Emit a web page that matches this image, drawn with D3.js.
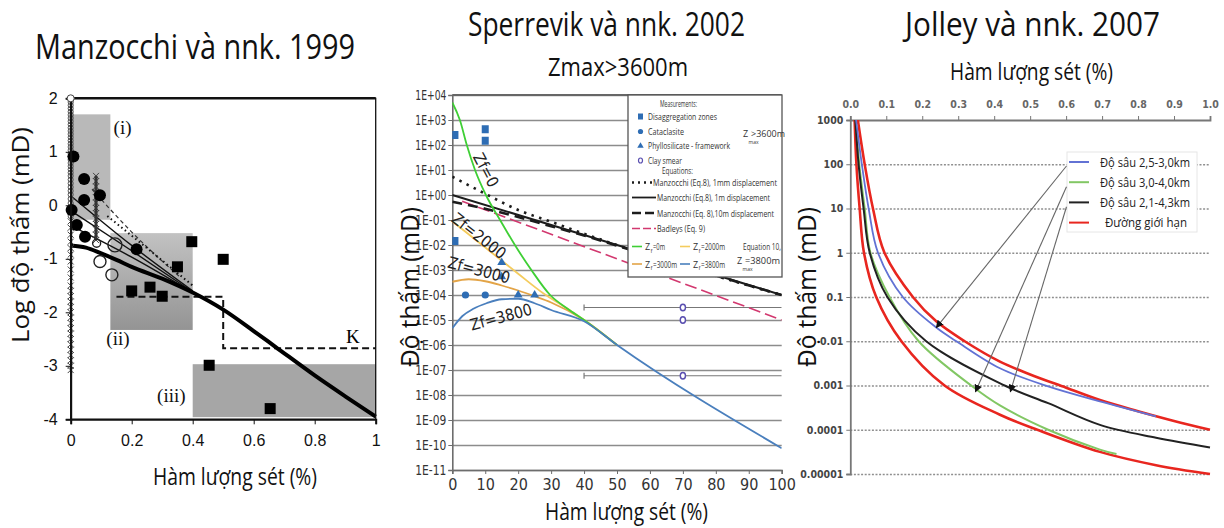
<!DOCTYPE html>
<html>
<head>
<meta charset="utf-8">
<title>Độ thấm - hàm lượng sét</title>
<script src="https://cdnjs.cloudflare.com/ajax/libs/d3/7.8.5/d3.min.js"></script>
<style>
  body { margin: 0; background: #fff; }
  text { font-family: 'Open Sans', sans-serif; }
  .narrow { font-family: 'Liberation Sans Narrow', 'Arial Narrow', 'DejaVu Sans Condensed', sans-serif; }
  .arial { font-family: 'Liberation Sans', Arial, sans-serif; }
  .serif { font-family: 'Liberation Serif', 'Times New Roman', serif; }
</style>
</head>
<body>
<svg id="chart" width="1224" height="528"></svg>
<script>
// ---------- Manzocchi 1999 : log k vs clay fraction ----------
var manzXTicks = [0, 0.2, 0.4, 0.6, 0.8, 1];
var manzYTicks = [2, 1, 0, -1, -2, -3, -4];
var manzThick = [[0,-0.75],[0.05,-0.79],[0.1,-0.9],[0.15,-1.02],[0.2,-1.15],[0.3,-1.37],[0.4,-1.63],[0.5,-1.95],[0.6,-2.35],[0.67,-2.64],[0.8,-3.18],[0.9,-3.57],[1,-3.95]];
var manzThin1 = [[0,0.18],[0.2,-0.75],[0.4,-1.6]];
var manzThin2 = [[0,-0.1],[0.2,-0.85],[0.4,-1.62]];
var manzThin3 = [[0,-0.38],[0.2,-0.97],[0.4,-1.63]];
var manzDashed = [[0.07,0.3],[0.2,-0.5],[0.36,-1.35]];
var manzDotted = [[0.12,-0.2],[0.25,-0.8],[0.4,-1.5]];
var manzK = [[0.15,-1.71],[0.5,-1.71],[0.5,-2.67],[1,-2.67]];
var manzBoxX0 = [0, 0.13, 0.4];
var manzBoxX1 = [0.13, 0.4, 1];
var manzBoxY0 = [-0.27, -2.33, -3.96];
var manzBoxY1 = [1.7, -0.52, -2.97];
var manzBoxLabels = ["(i)", "(ii)", "(iii)"];
var manzBoxLabelX = [0.17, 0.155, 0.33];
var manzBoxLabelY = [1.44, -2.5, -3.56];
var manzCircX = [0.009,0.044,0.044,0.096,0.003,0.02,0.047,0.216];
var manzCircY = [0.91,0.49,0.1,0.19,-0.09,-0.37,-0.59,-0.82];
var manzOpenX = [0.145,0.096,0.135,0.085];
var manzOpenY = [-0.74,-1.05,-1.3,-0.71];
var manzOpenR = [7,6,6,4];
var manzSqX = [0.397,0.5,0.35,0.26,0.3,0.2,0.454,0.654];
var manzSqY = [-0.68,-1.01,-1.15,-1.53,-1.7,-1.6,-2.99,-3.8];
var manzColO = [2.0,1.93,1.87,1.81,1.75,1.69,1.63,1.57,1.51,1.45,1.39,1.33,1.27,1.21,1.15,1.09,1.03,0.97,0.91,0.85,0.79,0.73,0.67,0.61,0.55,0.48,0.41,0.34,0.27,0.2,0.12,0.04,-0.04,-0.12,-0.2];
var manzColX = [-0.3,-0.42,-0.55,-0.68,-0.8,-0.92,-1.05,-1.2,-1.35,-1.5,-1.6,-1.7,-1.8,-1.9,-2.0,-2.1,-2.2,-2.3,-2.4,-2.5,-2.6,-2.7,-2.8,-2.9,-3.0,-3.08];
var manzCol2 = [0.55,0.45,0.35,0.25,0.15,0.05,-0.05,-0.15,-0.25,-0.35,-0.45,-0.55,-0.65];

// ---------- Sperrevik 2002 : k (log10 mD) vs clay % ----------
var spXTicks = [0,10,20,30,40,50,60,70,80,90,100];
var spYExp = [4,3,2,1,0,-1,-2,-3,-4,-5,-6,-7,-8,-9,-10,-11];
var spYLabels = ["1E+04","1E+03","1E+02","1E+01","1E+00","1E-01","1E-02","1E-03","1E-04","1E-05","1E-06","1E-07","1E-08","1E-09","1E-10","1E-11"];
var spZf0 = [[0,3.7],[2.3,3],[4.4,2],[6.9,1],[10.2,0],[14.5,-1],[19,-2],[24,-3],[29.7,-4],[35,-4.55],[40,-5],[50,-6]];
var spZf2000 = [[0,-1.05],[10,-2.1],[20,-3.15],[27.6,-3.93],[35,-4.55],[40,-5],[50,-6]];
var spZf3000 = [[0,-3.47],[5,-3.37],[10,-3.45],[15,-3.62],[20,-3.82],[25,-4.05],[30,-4.3],[40,-5],[50,-6]];
var spZf3800 = [[0,-5.33],[3,-4.85],[6.4,-4.55],[10.4,-4.33],[15,-4.17],[20,-4.15],[25,-4.33],[30,-4.6],[40,-5.05],[50,-6],[100,-10.13]];
var spManz1mm = [[0,0.73],[10,0.05],[20,-0.6],[30,-1.07],[40,-1.55],[50,-2.0],[100,-4]];
var spManz1m = [[0,0],[100,-4]];
var spManz10m = [[0,-0.27],[10,-0.55],[20,-0.88],[30,-1.25],[40,-1.62],[50,-2.03],[100,-4]];
var spBadley = [[3,-0.25],[100,-5]];
var spDisX = [0.8,10,10,0.8], spDisY = [2.4,2.63,2.17,-1.84];
var spCatX = [4,10], spCatY = [-4,-4];
var spPhyX = [15,15,20,25], spPhyY = [-2.7,-3.27,-4,-4];
var spClayX = [70,70,70], spClayY = [-4.5,-5.0,-7.23];
var spBarY = [-4.5,-7.23], spBarX0 = 40, spBarX1 = 100;

// ---------- Jolley 2007 : k (mD) vs clay fraction ----------
var joXTicks = [0,0.1,0.2,0.3,0.4,0.5,0.6,0.7,0.8,0.9,1.0];
var joYTicks = [1000,100,10,1,0.1,0.01,0.001,0.0001,0.00001];
var joYLabels = ["1000","100","10","1","0.1","0.01","0.001","0.0001","0.00001"];
var joRedUp = [[0.021,3],[0.04,2],[0.063,1],[0.095,0],[0.174,-1],[0.239,-1.55],[0.318,-2],[0.416,-2.46],[0.5,-2.75],[0.6,-3.05],[0.694,-3.33],[0.8,-3.58],[0.9,-3.8],[1.0,-4.0]];
var joBlue = [[0.016,3],[0.032,2],[0.051,1],[0.077,0],[0.146,-1],[0.239,-1.69],[0.295,-2],[0.416,-2.61],[0.55,-3.02],[0.694,-3.36],[0.85,-3.7]];
var joBlack = [[0.014,3],[0.023,2],[0.037,1],[0.054,0],[0.103,-1],[0.211,-2],[0.429,-3],[0.55,-3.4],[0.694,-3.89],[0.85,-4.18],[1.0,-4.4]];
var joGreen = [[0.015,3],[0.025,2],[0.04,1],[0.056,0],[0.109,-1],[0.19,-2],[0.336,-3],[0.416,-3.45],[0.55,-4.0],[0.694,-4.45],[0.74,-4.55]];
var joRedLow = [[0.012,3],[0.017,2],[0.026,1],[0.038,0],[0.072,-1],[0.142,-2],[0.262,-3],[0.416,-3.66],[0.52,-4.0],[0.694,-4.5],[0.85,-4.8],[1.0,-5.0]];
var joLegend = ["Độ sâu 2,5-3,0km","Độ sâu 3,0-4,0km","Độ sâu 2,1-4,3km","Đường giới hạn"];
var joColors = ["#6272d4","#82c764","#222222","#e8261f"];
var joArrowFrom = [[0.601,1.96],[0.601,1.49],[0.601,1.04]];
var joArrowTo = [[0.239,-1.69],[0.348,-3.14],[0.445,-3.14]];

var svg = d3.select("#chart");
svg.append("rect").attr("width",1224).attr("height",528).attr("fill","#fff");
function fit(sel, w) { return sel.attr("textLength", w).attr("lengthAdjust", "spacingAndGlyphs"); }

// ---- titles ----
fit(svg.append("text").attr("x",35).attr("y",59).attr("font-size",35).attr("fill","#111").text("Manzocchi và nnk. 1999"), 320);
fit(svg.append("text").attr("x",468).attr("y",36).attr("font-size",33).attr("fill","#111").text("Sperrevik và nnk. 2002"), 277);
fit(svg.append("text").attr("x",905).attr("y",36).attr("font-size",33).attr("fill","#111").text("Jolley và nnk. 2007"), 255);
fit(svg.append("text").attr("x",548).attr("y",76).attr("font-size",25).attr("fill","#111").text("Zmax>3600m"), 140);

// =============== Panel 1 ===============
var p1 = svg.append("g");
var x1 = d3.scaleLinear().domain([0,1]).range([70.7,375.7]);
var y1 = d3.scaleLinear().domain([-4,2]).range([419.3,98.3]);

var shade = p1.append("defs").append("linearGradient").attr("id","shadeii").attr("x1",0).attr("y1",0).attr("x2",0).attr("y2",1);
shade.append("stop").attr("offset","0").attr("stop-color","#c2c2c2");
shade.append("stop").attr("offset","1").attr("stop-color","#949494");

p1.selectAll("rect.box").data(manzBoxX0).enter().append("rect")
  .attr("x", function(d){ return x1(d); })
  .attr("y", function(d,i){ return y1(manzBoxY1[i]); })
  .attr("width", function(d,i){ return x1(manzBoxX1[i]) - x1(d); })
  .attr("height", function(d,i){ return y1(manzBoxY0[i]) - y1(manzBoxY1[i]); })
  .attr("fill", function(d,i){ return i === 1 ? "url(#shadeii)" : (i === 0 ? "#b9b9b9" : "#a6a6a6"); });

p1.selectAll("text.boxlab").data(manzBoxLabels).enter().append("text")
  .attr("class","serif").attr("font-size",19).attr("text-anchor","middle").attr("fill","#111")
  .attr("x", function(d,i){ return x1(manzBoxLabelX[i]); })
  .attr("y", function(d,i){ return y1(manzBoxLabelY[i]) + 6; })
  .text(function(d){ return d; });
p1.append("text").attr("class","serif").attr("font-size",19).attr("text-anchor","middle")
  .attr("x", x1(0.925)).attr("y", y1(-2.46) + 6).text("K");

var ln1 = d3.line().x(function(d){ return x1(d[0]); }).y(function(d){ return y1(d[1]); });
var ln1c = d3.line().x(function(d){ return x1(d[0]); }).y(function(d){ return y1(d[1]); }).curve(d3.curveMonotoneX);
p1.append("path").attr("d", ln1(manzK)).attr("fill","none").attr("stroke","#111").attr("stroke-width",2).attr("stroke-dasharray","7,4");
[manzThin1, manzThin2, manzThin3].forEach(function(s){
  p1.append("path").attr("d", ln1c(s)).attr("fill","none").attr("stroke","#111").attr("stroke-width",1.4);
});
p1.append("path").attr("d", ln1c(manzDashed)).attr("fill","none").attr("stroke","#333").attr("stroke-width",1.2).attr("stroke-dasharray","4,3");
p1.append("path").attr("d", ln1c(manzDotted)).attr("fill","none").attr("stroke","#111").attr("stroke-width",2).attr("stroke-dasharray","1.5,3");
p1.append("path").attr("d", ln1c(manzThick)).attr("fill","none").attr("stroke","#000").attr("stroke-width",4);

// x=0 column of measurements
p1.selectAll("circle.colo").data(manzColO).enter().append("circle")
  .attr("cx", x1(0)).attr("cy", function(d){ return y1(d); }).attr("r",2.6)
  .attr("fill","none").attr("stroke","#555").attr("stroke-width",1);
function cross(g, data, xv) {
  g.selectAll(null).data(data).enter().append("path")
    .attr("d", function(d){ var cx = x1(xv), cy = y1(d); return "M"+(cx-3)+","+(cy-3)+"L"+(cx+3)+","+(cy+3)+"M"+(cx-3)+","+(cy+3)+"L"+(cx+3)+","+(cy-3); })
    .attr("stroke","#444").attr("stroke-width",1);
}
cross(p1, manzColX, 0);
cross(p1, manzCol2, 0.083);
p1.append("line").attr("x1",x1(0.083)).attr("x2",x1(0.083)).attr("y1",y1(0.55)).attr("y2",y1(-0.65)).attr("stroke","#333").attr("stroke-width",3);

p1.selectAll("circle.fc").data(manzCircX).enter().append("circle")
  .attr("cx", function(d){ return x1(d); }).attr("cy", function(d,i){ return y1(manzCircY[i]); })
  .attr("r",6).attr("fill","#000");
p1.selectAll("circle.oc").data(manzOpenX).enter().append("circle")
  .attr("cx", function(d){ return x1(d); }).attr("cy", function(d,i){ return y1(manzOpenY[i]); })
  .attr("r", function(d,i){ return manzOpenR[i]; }).attr("fill","none").attr("stroke","#222").attr("stroke-width",1.4);
p1.selectAll("rect.sq").data(manzSqX).enter().append("rect")
  .attr("x", function(d){ return x1(d) - 5.5; }).attr("y", function(d,i){ return y1(manzSqY[i]) - 5.5; })
  .attr("width",11).attr("height",11).attr("fill","#000");

// frame and axes
p1.append("rect").attr("x",x1(0)).attr("y",y1(2)).attr("width",x1(1)-x1(0)).attr("height",y1(-4)-y1(2))
  .attr("fill","none").attr("stroke","#111").attr("stroke-width",1.3);
p1.append("line").attr("x1",x1(0)).attr("x2",x1(1)).attr("y1",y1(2)).attr("y2",y1(2)).attr("stroke","#111").attr("stroke-width",2.5);
var ax1 = p1.append("g").attr("transform","translate(0,"+y1(-4)+")")
  .call(d3.axisBottom(x1).tickValues(manzXTicks).tickSize(5).tickPadding(10).tickFormat(function(d){ return String(d); }));
var ay1 = p1.append("g").attr("transform","translate("+x1(0)+",0)")
  .call(d3.axisLeft(y1).tickValues(manzYTicks).tickSize(5).tickPadding(8).tickFormat(function(d){ return String(d); }));
[ax1, ay1].forEach(function(a){
  a.select(".domain").attr("stroke","#111").attr("stroke-width",2);
  a.selectAll("line").attr("stroke","#111");
  a.selectAll("text").attr("class","arial").attr("font-size",16).attr("fill","#111");
});
p1.append("circle").attr("cx",x1(0)).attr("cy",y1(2)).attr("r",3.5).attr("fill","#fff").attr("stroke","#444");

fit(p1.append("text").attr("x",153).attr("y",485).attr("font-size",23).attr("fill","#111").text("Hàm lượng sét (%)"), 164);
fit(p1.append("text").attr("transform","translate(29,343) rotate(-90)").attr("font-size",23).attr("fill","#111").text("Log độ thấm (mD)"), 216);

// =============== Panel 2 ===============
var p2 = svg.append("g");
var x2 = d3.scaleLinear().domain([0,100]).range([452.3,781.7]);
var y2 = d3.scaleLog().domain([1e-11,1e4]).range([470,95]);
var e2 = function(v){ return y2(Math.pow(10, v)); };
var spYVals = spYExp.map(function(e){ return Math.pow(10, e); });

var g2 = p2.append("g").attr("transform","translate("+x2(0)+",0)")
  .call(d3.axisLeft(y2).tickValues(spYVals).tickSize(-(x2(100)-x2(0))).tickFormat(""));
g2.select(".domain").remove();
g2.selectAll("line").attr("stroke","#8c8c8c").attr("stroke-width",1.6);
var a2y = p2.append("g").attr("transform","translate("+x2(0)+",0)")
  .call(d3.axisLeft(y2).tickValues(spYVals).tickSize(4).tickPadding(2).tickFormat(function(d,i){ return spYLabels[i]; }));
var a2x = p2.append("g").attr("transform","translate(0,"+y2(1e-11)+")")
  .call(d3.axisBottom(x2).tickValues(spXTicks).tickSize(4).tickPadding(5));
[a2y, a2x].forEach(function(a){
  a.select(".domain").attr("stroke","#6d6d6d").attr("stroke-width",1.6);
  a.selectAll("line").attr("stroke","#6d6d6d");
  a.selectAll("text").attr("class","narrow").attr("fill","#333");
});
a2y.selectAll("text").attr("font-size",14).attr("textLength",31).attr("lengthAdjust","spacingAndGlyphs");
a2x.selectAll("text").attr("font-size",16);
p2.append("line").attr("x1",x2(0)).attr("x2",x2(100)).attr("y1",y2(1e4)).attr("y2",y2(1e4)).attr("stroke","#666").attr("stroke-width",2);

p2.append("clipPath").attr("id","clip2").append("rect").attr("x",x2(0)).attr("y",y2(1e4)).attr("width",x2(100)-x2(0)).attr("height",y2(1e-11)-y2(1e4));
var c2 = p2.append("g").attr("clip-path","url(#clip2)");
var ln2 = d3.line().x(function(d){ return x2(d[0]); }).y(function(d){ return e2(d[1]); }).curve(d3.curveMonotoneX);

// error bars of clay smear
c2.selectAll("line.bar").data(spBarY).enter().append("line")
  .attr("x1",x2(spBarX0)).attr("x2",x2(spBarX1)).attr("y1",function(d){ return e2(d); }).attr("y2",function(d){ return e2(d); })
  .attr("stroke","#777").attr("stroke-width",1.2);
c2.selectAll("line.barend").data(spBarY).enter().append("line")
  .attr("x1",x2(spBarX0)).attr("x2",x2(spBarX0)).attr("y1",function(d){ return e2(d)-3; }).attr("y2",function(d){ return e2(d)+3; })
  .attr("stroke","#777").attr("stroke-width",1.2);

c2.append("path").attr("d",ln2(spBadley)).attr("fill","none").attr("stroke","#d2386f").attr("stroke-width",1.6).attr("stroke-dasharray","12,5");
c2.append("path").attr("d",ln2(spManz1m)).attr("fill","none").attr("stroke","#1c1c1c").attr("stroke-width",2);
c2.append("path").attr("d",ln2(spManz10m)).attr("fill","none").attr("stroke","#1c1c1c").attr("stroke-width",2.6).attr("stroke-dasharray","10,6");
c2.append("path").attr("d",ln2(spManz1mm)).attr("fill","none").attr("stroke","#1c1c1c").attr("stroke-width",2.6).attr("stroke-dasharray","2.5,5.5");
c2.append("path").attr("d",ln2(spZf3000)).attr("fill","none").attr("stroke","#e3a447").attr("stroke-width",1.8);
c2.append("path").attr("d",ln2(spZf2000)).attr("fill","none").attr("stroke","#f4cc5e").attr("stroke-width",1.8);
c2.append("path").attr("d",ln2(spZf0)).attr("fill","none").attr("stroke","#3fcf35").attr("stroke-width",1.8);
c2.append("path").attr("d",ln2(spZf3800)).attr("fill","none").attr("stroke","#4a7fbd").attr("stroke-width",1.8);

var mk = "#2e6db4";
c2.selectAll("rect.dis").data(spDisX).enter().append("rect")
  .attr("x",function(d){ return x2(d)-3.5; }).attr("y",function(d,i){ return e2(spDisY[i])-4; })
  .attr("width",7).attr("height",8).attr("fill",mk);
c2.selectAll("circle.cat").data(spCatX).enter().append("circle")
  .attr("cx",function(d){ return x2(d); }).attr("cy",function(d,i){ return e2(spCatY[i]); }).attr("r",3.6).attr("fill",mk);
var tri = d3.symbol().type(d3.symbolTriangle).size(34);
c2.selectAll("path.phy").data(spPhyX).enter().append("path")
  .attr("d",tri).attr("transform",function(d,i){ return "translate("+x2(d)+","+e2(spPhyY[i])+")"; }).attr("fill",mk);
c2.selectAll("ellipse.clay").data(spClayX).enter().append("ellipse")
  .attr("cx",function(d){ return x2(d); }).attr("cy",function(d,i){ return e2(spClayY[i]); }).attr("rx",2.6).attr("ry",3.2)
  .attr("fill","#fff").attr("stroke","#5a4fb0").attr("stroke-width",1.4);

// labels on curves
var curveLab = [["Zf=0",486,170,62],["Zf=2000",479,236,38],["Zf=3000",479,270,15],["Zf=3800",501,317,-15]];
curveLab.forEach(function(c){
  p2.append("text").attr("class","narrow").attr("font-size",16).attr("fill","#222").attr("text-anchor","middle")
    .attr("transform","translate("+c[1]+","+c[2]+") rotate("+c[3]+")").attr("dy","0.35em").text(c[0]);
});

// legend
var lg = p2.append("g").attr("class","narrow").attr("font-size",9).attr("fill","#333");
lg.append("rect").attr("x",628).attr("y",95).attr("width",154).attr("height",182).attr("fill","#fff").attr("stroke","#555").attr("stroke-width",1.3);
fit(lg.append("text").attr("x",660).attr("y",107).text("Measurements:"), 37);
var mNames = ["Disaggregation zones","Cataclasite","Phyllosilicate - framework","Clay smear"];
var mW = [69,36,82,34];
mNames.forEach(function(n,i){
  var yy = 117 + i*14.5;
  fit(lg.append("text").attr("x",648).attr("y",yy+3.2).text(n), mW[i]);
  if (i === 0) lg.append("rect").attr("x",638).attr("y",yy-3.5).attr("width",5).attr("height",6).attr("fill",mk);
  if (i === 1) lg.append("circle").attr("cx",640.5).attr("cy",yy).attr("r",2.6).attr("fill",mk);
  if (i === 2) lg.append("path").attr("d",d3.symbol().type(d3.symbolTriangle).size(18)).attr("transform","translate(640.5,"+yy+")").attr("fill",mk);
  if (i === 3) lg.append("ellipse").attr("cx",640.5).attr("cy",yy).attr("rx",2).attr("ry",2.5).attr("fill","none").attr("stroke","#5a4fb0").attr("stroke-width",1.2);
});
fit(lg.append("text").attr("x",662).attr("y",174).attr("font-size",8.5).text("Equations:"), 31);
var eqNames = ["Manzocchi (Eq.8), 1mm displacement","Manzocchi (Eq.8), 1m displacement","Manzocchi (Eq. 8),10m displacement","Badleys (Eq. 9)"];
var eqW = [124,113,117,48];
var eqX = [653,657,657,657];
var eqY = [182.5,197.5,213,228.5];
var eqDash = ["2,4","","9,4","8,3"];
var eqCol = ["#1c1c1c","#1c1c1c","#1c1c1c","#d2386f"];
var eqSw = [2.4,1.8,2.4,1.6];
eqNames.forEach(function(n,i){
  lg.append("line").attr("x1",632).attr("x2",eqX[i]-1).attr("y1",eqY[i]).attr("y2",eqY[i])
    .attr("stroke",eqCol[i]).attr("stroke-width",eqSw[i]).attr("stroke-dasharray",eqDash[i]);
  fit(lg.append("text").attr("x",eqX[i]).attr("y",eqY[i]+3.5).text(n), eqW[i]);
});
var zNames = ["0m","2000m","3000m","3800m"];
var zCols = ["#3fcf35","#f4cc5e","#e3a447","#4a7fbd"];
zNames.forEach(function(n,i){
  var lx = i % 2 === 0 ? 632 : 680, ly = i < 2 ? 246.5 : 264;
  lg.append("line").attr("x1",lx).attr("x2",lx+10).attr("y1",ly).attr("y2",ly).attr("stroke",zCols[i]).attr("stroke-width",1.6);
  lg.append("text").attr("x",lx+13).attr("y",ly+3.5).text("Z");
  lg.append("text").attr("x",lx+18.5).attr("y",ly+6).attr("font-size",5.5).text("f");
  fit(lg.append("text").attr("x",lx+21).attr("y",ly+3.5).text("=" + n), n.length * 4 + 4);
});
fit(lg.append("text").attr("x",743).attr("y",250).text("Equation 10,"), 38);
// Z_max labels drawn as separate pieces
function zmax(x, y, rest, w) {
  lg.append("text").attr("x",x).attr("y",y).text("Z");
  lg.append("text").attr("x",x+5.5).attr("y",y+7).attr("font-size",5).text("max");
  fit(lg.append("text").attr("x",x+8).attr("y",y).text(rest), w);
}
zmax(737, 264, "=3800m", 35);
zmax(743, 137, ">3600m", 34);

fit(p2.append("text").attr("x",545).attr("y",520).attr("font-size",24).attr("fill","#111").text("Hàm lượng sét (%)"), 163);
fit(p2.append("text").attr("transform","translate(419,367) rotate(-90)").attr("font-size",25).attr("fill","#111").text("Độ thấm (mD)"), 160);

// =============== Panel 3 ===============
var p3 = svg.append("g");
var x3 = d3.scaleLinear().domain([0,1]).range([850.3,1210]);
var y3 = d3.scaleLog().domain([1e-5,1e3]).range([474,120]);
var e3 = function(v){ return y3(Math.pow(10, v)); };

var g3 = p3.append("g").attr("transform","translate("+x3(0)+",0)")
  .call(d3.axisLeft(y3).tickValues(joYTicks.slice(1)).tickSize(-(x3(1)-x3(0))).tickFormat(""));
g3.select(".domain").remove();
g3.selectAll("line").attr("stroke","#8f8f8f").attr("stroke-width",1.6).attr("stroke-dasharray","2,1.6");
var a3y = p3.append("g").attr("transform","translate("+x3(0)+",0)")
  .call(d3.axisLeft(y3).tickValues(joYTicks).tickSize(4).tickPadding(3).tickFormat(function(d,i){ return joYLabels[i]; }));
var a3x = p3.append("g").attr("transform","translate(0,"+y3(1e3)+")")
  .call(d3.axisTop(x3).tickValues(joXTicks).tickSize(4).tickPadding(8).tickFormat(d3.format(".1f")));
[a3y, a3x].forEach(function(a){
  a.select(".domain").attr("stroke","#777").attr("stroke-width",1.8);
  a.selectAll("line").attr("stroke","#777");
  a.selectAll("text").attr("class","narrow").attr("font-size",10.5).attr("font-weight","bold").attr("fill","#444");
});
a3x.selectAll("text").attr("fill","#666");

p3.append("clipPath").attr("id","clip3").append("rect").attr("x",x3(0)+1).attr("y",y3(1e3)).attr("width",x3(1)-x3(0)).attr("height",y3(1e-5)-y3(1e3)+2);
var c3 = p3.append("g").attr("clip-path","url(#clip3)");
var ln3 = d3.line().x(function(d){ return x3(d[0]); }).y(function(d){ return e3(d[1]); }).curve(d3.curveCatmullRom.alpha(0.5));
c3.append("path").attr("d",ln3(joRedLow)).attr("fill","none").attr("stroke",joColors[3]).attr("stroke-width",2.6);
c3.append("path").attr("d",ln3(joRedUp)).attr("fill","none").attr("stroke",joColors[3]).attr("stroke-width",2.6);
c3.append("path").attr("d",ln3(joGreen)).attr("fill","none").attr("stroke",joColors[1]).attr("stroke-width",2);
c3.append("path").attr("d",ln3(joBlack)).attr("fill","none").attr("stroke",joColors[2]).attr("stroke-width",2);
c3.append("path").attr("d",ln3(joBlue)).attr("fill","none").attr("stroke",joColors[0]).attr("stroke-width",1.8);

// legend
var lg3 = p3.append("g");
lg3.append("rect").attr("x",1067).attr("y",152).attr("width",130).attr("height",80).attr("fill","#fff").attr("stroke","#e6e6e6");
var lgW = [90,90,90,82];
joLegend.forEach(function(n,i){
  var yy = 162 + i*20.2;
  lg3.append("line").attr("x1",1069).attr("x2",1089).attr("y1",yy).attr("y2",yy).attr("stroke",joColors[i]).attr("stroke-width",2);
  fit(lg3.append("text").attr("x", i === 3 ? 1105 : 1100).attr("y",yy+4.5).attr("font-size",13).attr("fill","#222").text(n), lgW[i]);
});

// arrows
var defs = svg.append("defs");
defs.append("marker").attr("id","arr").attr("viewBox","0 0 10 10").attr("refX",9).attr("refY",5)
  .attr("markerWidth",7).attr("markerHeight",7).attr("orient","auto")
  .append("path").attr("d","M0,0L10,5L0,10z").attr("fill","#111");
joArrowFrom.forEach(function(f,i){
  var t = joArrowTo[i];
  p3.append("line").attr("x1",x3(f[0])).attr("y1",e3(f[1])).attr("x2",x3(t[0])).attr("y2",e3(t[1]))
    .attr("stroke","#666").attr("stroke-width",1.1).attr("marker-end","url(#arr)");
});

fit(p3.append("text").attr("x",950).attr("y",80).attr("font-size",23).attr("fill","#111").text("Hàm lượng sét (%)"), 163);
fit(p3.append("text").attr("transform","translate(816,367) rotate(-90)").attr("font-size",25).attr("fill","#111").text("Độ thấm (mD)"), 160);
</script>
</body>
</html>
